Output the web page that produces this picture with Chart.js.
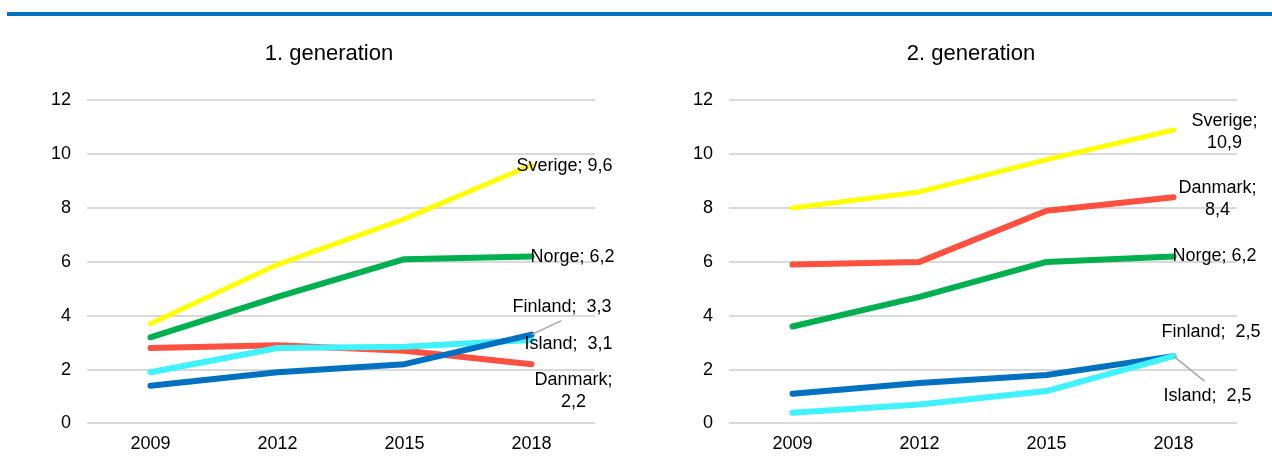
<!DOCTYPE html>
<html>
<head>
<meta charset="utf-8">
<script src="https://cdn.jsdelivr.net/npm/chart.js@4/dist/chart.umd.min.js"></script>
<style>
    body { margin: 0; background: #fff; }
    .wrap { position: relative; width: 1272px; height: 470px; overflow: hidden; }
    .top-line { position: absolute; left: 7px; top: 12px; width: 1265px; height: 4px; background: #0070c0; }
    canvas { position: absolute; top: 0; }
    #chartGen1 { left: 0; }
    #chartGen2 { left: 636px; }
</style>
</head>
<body>
<div class="wrap">
    <div class="top-line"></div>
    <canvas id="chartGen1" width="636" height="470"></canvas>
    <canvas id="chartGen2" width="636" height="470"></canvas>
</div>
<script>
const years = ["2009", "2012", "2015", "2018"];
const yTicks = [0, 2, 4, 6, 8, 10, 12];

// 1. generation
const gen1Sverige = [3.7, 5.9, 7.6, 9.6];
const gen1Norge = [3.2, 4.7, 6.1, 6.2];
const gen1Danmark = [2.8, 2.9, 2.7, 2.2];
const gen1Island = [1.9, 2.8, 2.85, 3.1];
const gen1Finland = [1.4, 1.9, 2.2, 3.3];

// 2. generation
const gen2Sverige = [8.0, 8.6, 9.8, 10.9];
const gen2Danmark = [5.9, 6.0, 7.9, 8.4];
const gen2Norge = [3.6, 4.7, 6.0, 6.2];
const gen2Finland = [1.1, 1.5, 1.8, 2.5];
const gen2Island = [0.4, 0.7, 1.2, 2.5];

const colors = {
    Sverige: "#ffff00",
    Norge: "#00b050",
    Danmark: "#ff5040",
    Finland: "#0070c0",
    Island: "#40f2ff",
};

const fontFamily = "'Liberation Sans', Arial, sans-serif";

function fmt(v) {
    return String(v).replace(".", ",");
}

// labels at the last point of each line, offsets in px from that point
const endLabels = {
    id: "endLabels",
    afterDatasetsDraw(chart, args, opts) {
        const ctx = chart.ctx;
        ctx.save();
        ctx.font = "18px " + fontFamily;
        ctx.fillStyle = "#000";
        ctx.textBaseline = "middle";
        (opts.items || []).forEach(function (item) {
            const idx = chart.data.datasets.findIndex((d) => d.label === item.name);
            const meta = chart.getDatasetMeta(idx);
            const pt = meta.data[meta.data.length - 1];
            const ds = chart.data.datasets[idx];
            const val = fmt(ds.data[ds.data.length - 1]);
            if (item.leader) {
                ctx.strokeStyle = "#a6a6a6";
                ctx.lineWidth = 1.5;
                ctx.beginPath();
                ctx.moveTo(pt.x, pt.y);
                ctx.lineTo(pt.x + item.leader[0], pt.y + item.leader[1]);
                ctx.stroke();
            }
            const lines = item.split
                ? [item.name + ";", val]
                : [item.name + ";" + item.gap + val];
            ctx.textAlign = item.align;
            lines.forEach(function (txt, i) {
                ctx.fillText(txt, pt.x + item.dx, pt.y + item.dy + i * 22);
            });
        });
        ctx.restore();
    },
};

function makeChart(id, title, series, labelItems, pad) {
    const ctx = document.getElementById(id).getContext("2d");
    return new Chart(ctx, {
        type: "line",
        data: {
            labels: years,
            datasets: series.map(function (s) {
                return {
                    label: s.name,
                    data: s.data,
                    borderColor: colors[s.name],
                    backgroundColor: colors[s.name],
                    borderWidth: s.name === "Sverige" ? 5 : 6,
                    borderCapStyle: "round",
                    borderJoinStyle: "round",
                    pointRadius: 0,
                    tension: 0,
                };
            }),
        },
        options: {
            responsive: false,
            devicePixelRatio: 1,
            animation: false,
            layout: {
                padding: { left: pad.left, right: pad.right, top: 0, bottom: 13 },
            },
            plugins: {
                legend: { display: false },
                tooltip: { enabled: false },
                title: {
                    display: true,
                    text: title,
                    color: "#000",
                    font: { family: fontFamily, size: 22, weight: "normal" },
                    padding: { top: 41, bottom: 33 },
                },
                endLabels: { items: labelItems },
            },
            scales: {
                x: {
                    offset: true,
                    grid: { display: false },
                    border: { display: false },
                    ticks: {
                        color: "#000",
                        padding: 2,
                        font: { family: fontFamily, size: 18 },
                    },
                },
                y: {
                    min: 0,
                    max: 12,
                    afterFit: function (scale) {
                        scale.width = 50;
                    },
                    afterBuildTicks: function (scale) {
                        scale.ticks = yTicks.map((v) => ({ value: v }));
                    },
                    grid: { color: "#d9d9d9", lineWidth: 2, drawTicks: false },
                    border: { display: false },
                    ticks: {
                        color: "#000",
                        padding: 16,
                        font: { family: fontFamily, size: 18 },
                    },
                },
                // empty space on the right so the title sits where it does in the original
                spacer: {
                    position: "right",
                    min: 0,
                    max: 12,
                    afterFit: function (scale) {
                        scale.width = 26;
                    },
                    grid: { display: false },
                    border: { display: false },
                    ticks: { display: false },
                },
            },
        },
        plugins: [endLabels],
    });
}

makeChart(
    "chartGen1",
    "1. generation",
    [
        { name: "Finland", data: gen1Finland },
        { name: "Island", data: gen1Island },
        { name: "Norge", data: gen1Norge },
        { name: "Sverige", data: gen1Sverige },
        { name: "Danmark", data: gen1Danmark },
    ],
    [
        { name: "Sverige", align: "left", dx: -15, dy: 1, gap: " " },
        { name: "Norge", align: "left", dx: -1, dy: 1, gap: " " },
        { name: "Finland", align: "left", dx: -19, dy: -28, gap: "  ", leader: [30, -14] },
        { name: "Island", align: "left", dx: -7, dy: 4, gap: "  " },
        { name: "Danmark", align: "center", dx: 42, dy: 16, split: true },
    ],
    { left: 37, right: 15 }
);

makeChart(
    "chartGen2",
    "2. generation",
    [
        { name: "Island", data: gen2Island },
        { name: "Finland", data: gen2Finland },
        { name: "Norge", data: gen2Norge },
        { name: "Danmark", data: gen2Danmark },
        { name: "Sverige", data: gen2Sverige },
    ],
    [
        { name: "Sverige", align: "center", dx: 51, dy: -9, split: true },
        { name: "Danmark", align: "center", dx: 44, dy: -9, split: true },
        { name: "Norge", align: "left", dx: -1, dy: 0, gap: " " },
        { name: "Finland", align: "left", dx: -12, dy: -24, gap: "  " },
        { name: "Island", align: "left", dx: -10, dy: 40, gap: "  ", leader: [31, 25] },
    ],
    { left: 43, right: 9 }
);
</script>
</body>
</html>
